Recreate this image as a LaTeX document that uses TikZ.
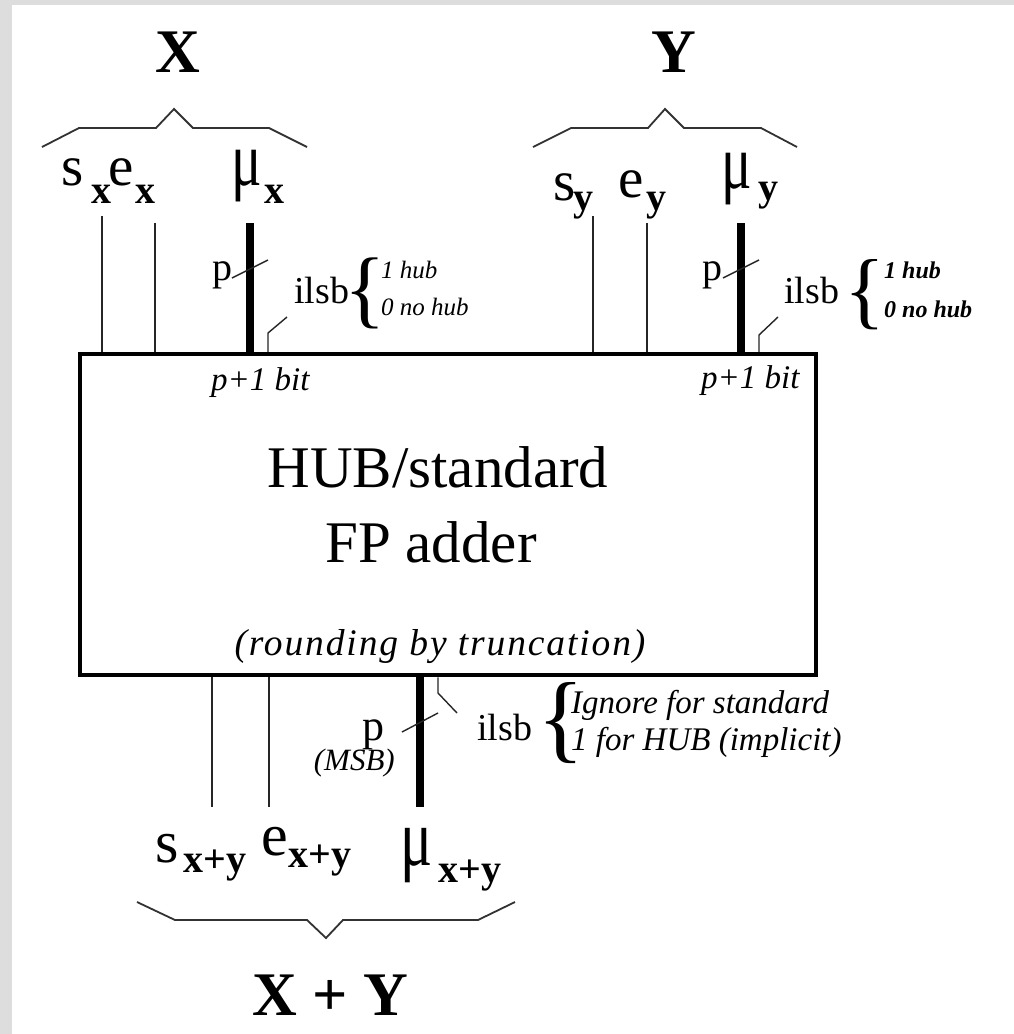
\documentclass[tikz,border=0pt]{standalone}
\usepackage{fontspec}
\setmainfont{Liberation Serif}
\newfontfamily\spacedfont[LetterSpace=5]{Liberation Serif}
\definecolor{bggray}{RGB}{221,221,221}
\definecolor{brgray}{RGB}{50,50,50}
\newcommand\fs[1]{\fontsize{#1}{#1}\selectfont}
\newcommand\mainf{\fs{57}}
\newcommand\subf{\fs{40}\bfseries}
\newcommand\mug{\scalebox{1}[1.35]{μ}}
\begin{document}
\begin{tikzpicture}[x=1pt,y=-1pt,
  lbl/.style={inner sep=0pt, anchor=base west},
  cbl/.style={inner sep=0pt, anchor=base},
  wire/.style={line width=1.5pt, black!85},
  buswire/.style={line width=8.5pt},
  tick/.style={line width=1.4pt, black!85},
  grp/.style={line width=1.8pt, brgray, line join=miter},
  boxst/.style={draw, line width=4.5pt, inner sep=0pt, minimum width=736pt, minimum height=321pt}]
% background and margins
\fill[white] (0,0) rectangle (1014,1034);
\fill[bggray] (0,0) rectangle (12,1034);
\fill[bggray] (0,0) rectangle (1014,5);
\useasboundingbox (0,0) rectangle (1014,1034);

% main block
\node[boxst] (adder) at (448,514.5) {};
\node[cbl] (t1) at (438,487) {\fs{59}HUB/standard};
\node[cbl] (t2) at (431,562) {\fs{59}FP adder};
\node[cbl] (t3) at (440,655) {\spacedfont\fs{37.5}\itshape (rounding by truncation)};
\node[lbl] (pbl) at (211,390) {\fs{33}\itshape p+1 bit};
\node[lbl] (pbr) at (701,388) {\fs{33}\itshape p+1 bit};

% ---------- X operand ----------
\node[cbl] (X) at (178,72) {\fs{62}\bfseries X};
\draw[grp] (42,147) -- (79,128) -- (156,128) -- (174,109) -- (193,128) -- (269,128) -- (307,147);
\node[lbl] (sx) at (61,185) {\mainf s};
\node[lbl] (sxs) at (91.5,203) {\subf x};
\node[lbl] (ex) at (108.5,185) {\mainf e};
\node[lbl] (exs) at (135,203) {\subf x};
\node[lbl] (mux) at (231,185) {\mainf\mug};
\node[lbl] (muxs) at (264,203) {\subf x};
\coordinate (sxend) at (102,216);
\coordinate (exend) at (155,223);
\coordinate (muxend) at (250,223);
\draw[wire] (sxend) -- (sxend |- adder.north);
\draw[wire] (exend) -- (exend |- adder.north);
\draw[buswire] (muxend) -- (muxend |- adder.north);
\coordinate (pxa) at (232,278);
\coordinate (pxb) at (268,260);
\draw[tick] (pxa) -- (pxb);
\node[lbl] (px) at (212,280) {\fs{40}p};
\coordinate (ilx) at (268,333);
\coordinate (ilxe) at (287,317);
\draw[tick] (ilx |- adder.north) -- (ilx) -- (ilxe);
\node[lbl] (ilsbx) at (294,303) {\fs{38}ilsb};
\node[lbl] (brx) at (344.5,317) {\fs{86}\{};
\node[lbl] (hx1) at (381,278) {\fs{25}\itshape 1 hub};
\node[lbl] (hx0) at (381,315) {\fs{25}\itshape 0 no hub};

% ---------- Y operand ----------
\node[cbl] (Y) at (674,72) {\fs{62}\bfseries Y};
\draw[grp] (533,147) -- (571,128) -- (648,128) -- (665,109) -- (684,128) -- (761,128) -- (797,147);
\node[lbl] (sy) at (553,200) {\mainf s};
\node[lbl] (sys) at (573,210) {\subf y};
\node[lbl] (ey) at (618.5,197) {\mainf e};
\node[lbl] (eys) at (646,210) {\subf y};
\node[lbl] (muy) at (721,188) {\mainf\mug};
\node[lbl] (muys) at (758,200) {\subf y};
\coordinate (syend) at (593,216);
\coordinate (eyend) at (647,223);
\coordinate (muyend) at (741,223);
\draw[wire] (syend) -- (syend |- adder.north);
\draw[wire] (eyend) -- (eyend |- adder.north);
\draw[buswire] (muyend) -- (muyend |- adder.north);
\coordinate (pya) at (723,278);
\coordinate (pyb) at (759,260);
\draw[tick] (pya) -- (pyb);
\node[lbl] (py) at (702,280) {\fs{40}p};
\coordinate (ily) at (759,335);
\coordinate (ilye) at (778,317);
\draw[tick] (ily |- adder.north) -- (ily) -- (ilye);
\node[lbl] (ilsby) at (784,303) {\fs{38}ilsb};
\node[lbl] (bry) at (844.5,318) {\fs{85}\{};
\node[lbl] (hy1) at (884,278) {\fs{24}\bfseries\itshape 1 hub};
\node[lbl] (hy0) at (884,317) {\fs{24}\bfseries\itshape 0 no hub};

% ---------- result ----------
\coordinate (srend) at (212,807);
\coordinate (erend) at (269,807);
\coordinate (murend) at (420,807);
\draw[wire] (adder.south -| srend) -- (srend);
\draw[wire] (adder.south -| erend) -- (erend);
\draw[buswire] (adder.south -| murend) -- (murend);
\coordinate (pra) at (402,732);
\coordinate (prb) at (438,713);
\draw[tick] (pra) -- (prb);
\node[lbl] (pr) at (362,740) {\fs{44}p};
\node[inner sep=0pt, anchor=base east] (msb) at (395,770) {\fs{31}\itshape (MSB)};
\coordinate (ilr) at (438,693);
\coordinate (ilre) at (457,713);
\draw[tick] (adder.south -| ilr) -- (ilr) -- (ilre);
\node[lbl] (ilsbr) at (477,740) {\fs{38}ilsb};
\node[lbl] (brr) at (537,750) {\fs{98}\{};
\node[lbl] (ign) at (571,713) {\fs{33}\itshape Ignore for standard};
\node[lbl] (hubi) at (571,750) {\fs{33}\itshape 1 for HUB (implicit)};

\node[lbl] (sr) at (155,862) {\fs{60}s};
\node[lbl] (srs) at (183,872) {\subf x+y};
\node[lbl] (er) at (261.5,855) {\fs{60}e};
\node[lbl] (ers) at (288,867) {\subf x+y};
\node[lbl] (mur) at (400,865) {\fs{60}\mug};
\node[lbl] (murs) at (438,882) {\subf x+y};
\draw[grp] (137,902) -- (175,920) -- (307,920) -- (326,938) -- (343,920) -- (478,920) -- (515,902);
\node[cbl] (XY) at (330,1015) {\fs{62}\bfseries X + Y};
\end{tikzpicture}
\end{document}
